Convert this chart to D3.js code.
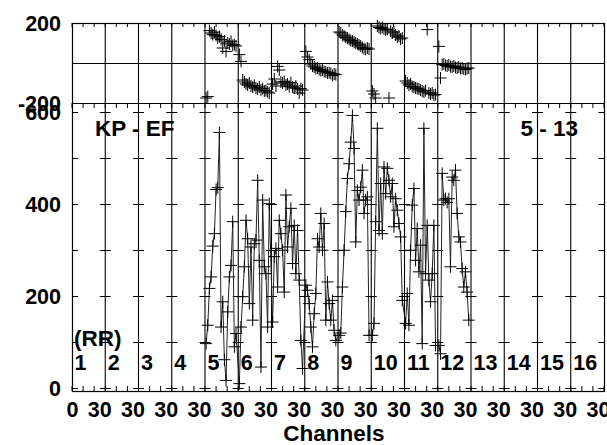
<!DOCTYPE html>
<html>
<head>
<meta charset="utf-8">
<script src="https://cdn.jsdelivr.net/npm/d3@7"></script>
<style>
  body { margin: 0; background: #fff; }
  svg text { font-family: "Liberation Sans", Arial, sans-serif; font-weight: bold; fill: #000; }
  .axis path { display: none; }
  .axis line { stroke: none; }
</style>
</head>
<body>
<div id="plot"></div>
<script>
// channel labels along the bottom panel
const channelLabels = ["1","2","3","4","5","6","7","8","9","10","11","12","13","14","15","16"]
// sub-channel positions of the plotted points (0..30 inside a channel)
const subPos = [1, 2.5, 4, 5.5, 7, 8.5, 10, 11.5, 13, 14.5, 16, 17.5, 19, 20.5, 22, 23.5, 25, 26.5, 28]
const dataChannels = [5, 6, 7, 8, 9, 10, 11, 12]

// amplitude, one row per channel 5..12
const amp5  = [97, 137, 217, 242, 309, 336, 432, 436, 556, 133, 188, 62, 17, 166, 242, 267, 362, 90, 119]
const amp6  = [10, 133, 199, 264, 365, 325, 184, 307, 148, 314, 322, 452, 278, 46, 409, 264, 249, 133, 401]
const amp7  = [144, 286, 304, 220, 365, 336, 300, 209, 420, 307, 351, 391, 271, 354, 249, 343, 235, 104, 43]
const amp8  = [224, 213, 184, 133, 90, 162, 206, 325, 307, 380, 300, 358, 148, 231, 184, 148, 191, 126, 104]
const amp9  = [115, 120, 220, 300, 384, 456, 488, 535, 593, 521, 318, 430, 409, 437, 474, 380, 409, 416, 115]
const amp10 = [115, 141, 362, 565, 343, 445, 336, 481, 423, 478, 452, 416, 445, 351, 412, 387, 358, 329, 191]
const amp11 = [141, 206, 137, 300, 398, 434, 278, 347, 253, 311, 97, 565, 249, 354, 235, 188, 249, 354, 93]
const amp12 = [93, 75, 467, 409, 412, 404, 412, 264, 459, 452, 474, 380, 329, 318, 260, 220, 253, 209, 148]

// phase (degrees), one row per channel 5..12
const ph5  = [-175, -168, 162, 150, 142, 155, 138, 125, 132, 118, 75, 110, 58, 100, 95, 108, 88, 92, 85]
const ph6  = [42, 8, -85, -95, -105, -110, -100, -115, -120, -112, -125, -130, -120, -135, -128, -140, -138, -145, -150]
const ph7  = [-105, -80, -115, -17, -35, -95, -100, -92, -110, -105, -118, -98, -120, -125, -115, -130, -150, -128, -135]
const ph8  = [58, 30, 17, -5, -15, -20, -28, -25, -33, -38, -35, -42, -45, -50, -48, -52, -62, -55, -58]
const ph9  = [155, 150, 140, 135, 128, 125, 118, 112, 110, 104, 100, 95, 90, 85, 78, 72, 68, 75, 70]
const ph10 = [-140, -155, -175, 185, 178, 172, 178, 170, 165, 168, -175, 160, 150, 155, 140, 130, 135, 120, 125]
const ph11 = [-90, -100, -110, -105, -118, -120, -125, -128, -130, -135, -140, -145, -138, 167, -150, -155, -150, -160, -158]
const ph12 = [83, -75, -8, -5, -12, -15, -10, -18, -20, -15, -22, -25, -20, -28, -25, -30, -32, -28, -25]

const ampRows = [amp5, amp6, amp7, amp8, amp9, amp10, amp11, amp12]
const phRows = [ph5, ph6, ph7, ph8, ph9, ph10, ph11, ph12]

const ampTicks = [0, 100, 200, 300, 400, 500, 600],
      ampLabels = [0, 200, 400, 600],
      phLabels = [-200, 200]

const W = 607, H = 445
const pLeft = 72, pRight = 604, pTop = 23, pMid = 103, pBottom = 391
const perCh = 30

const svg = d3.select("#plot").append("svg")
  .attr("width", W).attr("height", H)

const x = d3.scaleLinear().domain([0, perCh * 16]).range([pLeft, pRight]),
      yAmp = d3.scaleLinear().domain([-6, 620]).range([pBottom, pMid]),
      yPh = d3.scaleLinear().domain([-200, 200]).range([pMid, pTop])

// build point lists
let ampPts = [], phPts = []
dataChannels.forEach((ch, k) => {
  subPos.forEach((s, i) => {
    const xv = (ch - 1) * perCh + s
    ampPts.push([xv, ampRows[k][i]])
    phPts.push([xv, phRows[k][i]])
  })
})

// frames
svg.append("rect")
  .attr("x", pLeft + 0.5).attr("y", pTop + 0.5)
  .attr("width", pRight - pLeft).attr("height", pBottom - pTop)
  .attr("fill", "none").attr("stroke", "#000").attr("stroke-width", 1.2)

svg.append("line")
  .attr("x1", pLeft).attr("x2", pRight)
  .attr("y1", pMid + 0.5).attr("y2", pMid + 0.5)
  .attr("stroke", "#000").attr("stroke-width", 1.2)

// phase zero line
svg.append("line")
  .attr("x1", pLeft).attr("x2", pRight)
  .attr("y1", Math.round(yPh(0)) + 0.5).attr("y2", Math.round(yPh(0)) + 0.5)
  .attr("stroke", "#000")

// channel boundaries
const bounds = d3.range(1, 16).map(k => k * perCh)
svg.append("g").selectAll("line").data(bounds).join("line")
  .attr("x1", d => x(d)).attr("x2", d => x(d))
  .attr("y1", pTop).attr("y2", pBottom)
  .attr("stroke", "#000").attr("stroke-width", 1.1)

// minor ticks every 10 sub-channels
const minor = d3.range(0, perCh * 16 + 1, 10)
const tk = svg.append("g").attr("stroke", "#000")
minor.forEach(m => {
  tk.append("line").attr("x1", x(m)).attr("x2", x(m)).attr("y1", pTop).attr("y2", pTop + 4)
  tk.append("line").attr("x1", x(m)).attr("x2", x(m)).attr("y1", pMid).attr("y2", pMid + 5)
  tk.append("line").attr("x1", x(m)).attr("x2", x(m)).attr("y1", pBottom).attr("y2", pBottom - 5)
})

// amplitude ticks on every channel boundary
const allBounds = d3.range(0, 17).map(k => k * perCh)
allBounds.forEach(b => {
  ampTicks.forEach(v => {
    const x1 = b === 0 ? x(b) : x(b) - 5.5,
          x2 = b === 0 ? x(b) + 6 : (b === perCh * 16 ? x(b) : x(b) + 5.5)
    tk.append("line")
      .attr("x1", x1).attr("x2", x2)
      .attr("y1", Math.round(yAmp(v)) + 0.5).attr("y2", Math.round(yAmp(v)) + 0.5)
  })
})

// left axes (labels)
svg.append("g")
  .attr("class", "axis")
  .attr("transform", `translate(${pLeft - 8}, 0)`)
  .call(d3.axisLeft(yAmp).tickValues(ampLabels).tickSize(0).tickFormat(d => String(d)))
  .selectAll("text").style("font-size", "21.5px").attr("dy", "0.36em")

svg.append("g")
  .attr("class", "axis")
  .attr("transform", `translate(${pLeft - 8}, 0)`)
  .call(d3.axisLeft(yPh).tickValues(phLabels).tickSize(0).tickFormat(d => String(d)))
  .selectAll("text").style("font-size", "21.5px").attr("dy", "0.36em")

// bottom axis labels
svg.append("g")
  .attr("class", "axis")
  .attr("transform", `translate(0, ${pBottom + 4})`)
  .call(d3.axisBottom(x).tickValues(allBounds).tickSize(0)
    .tickFormat(d => d === 0 ? "0" : "30"))
  .selectAll("text")
  .style("font-size", "21.5px")
  .attr("dx", d => d === 0 ? 0 : -6)
  .attr("y", 0).attr("dy", "1em")

svg.append("text")
  .attr("x", (x(0) + x(480)) / 2 - 4).attr("y", 441)
  .attr("text-anchor", "middle")
  .style("font-size", "22.5px")
  .text("Channels")

// channel numbers
svg.append("g").selectAll("text").data(channelLabels).join("text")
  .attr("x", (d, i) => x(i * perCh) + 2.5)
  .attr("y", 370)
  .style("font-size", "21.5px")
  .text(d => d)

svg.append("text").attr("x", 74).attr("y", 346)
  .style("font-size", "22.5px").text("(RR)")

svg.append("text").attr("x", 95).attr("y", 136)
  .style("font-size", "22.5px").text("KP - EF")

svg.append("text").attr("x", 578).attr("y", 136)
  .attr("text-anchor", "end")
  .style("font-size", "22.5px").text("5 - 13")

// amplitude line
svg.append("path")
  .datum(ampPts)
  .attr("fill", "none")
  .attr("stroke", "#222")
  .attr("stroke-width", 1)
  .attr("d", d3.line().x(d => x(d[0])).y(d => yAmp(d[1])))

const cross = (g, pts, yScale) => {
  g.selectAll("path").data(pts).join("path")
    .attr("d", d => {
      const cx = x(d[0]), cy = yScale(d[1])
      return `M${cx - 6},${cy}H${cx + 6}M${cx},${cy - 6}V${cy + 6}`
    })
    .attr("stroke", "#000").attr("stroke-width", 1).attr("fill", "none")
}
cross(svg.append("g"), ampPts, yAmp)
cross(svg.append("g"), phPts, yPh)
</script>
</body>
</html>
